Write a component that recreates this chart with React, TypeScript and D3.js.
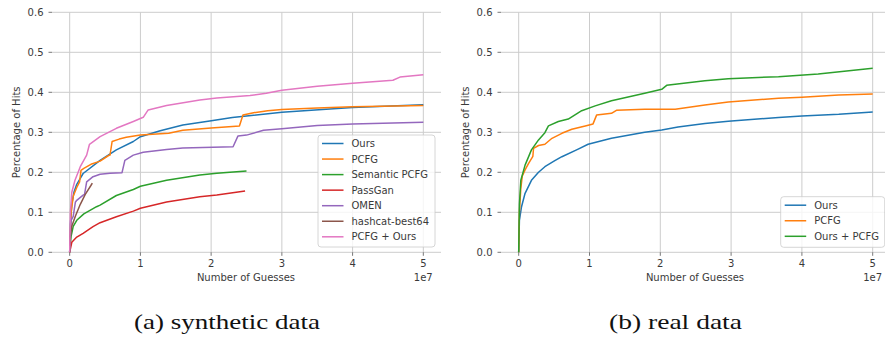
import React from "react";
import * as d3 from "d3";

type P = [number, number];

// x in units of 1e7 guesses, y as fraction of hits
const synOurs: P[] = [[0,0],[0.01,0.07],[0.03,0.12],[0.06,0.15],[0.1,0.17],[0.15,0.185],[0.19,0.197],[0.43,0.23],[0.66,0.256],[0.9,0.277],[1.0,0.289],[1.28,0.304],[1.6,0.318],[1.98,0.328],[2.3,0.337],[2.5,0.341],[3.0,0.35],[3.73,0.359],[4.0,0.362],[5.0,0.369]];
const synPCFG: P[] = [[0,0],[0.02,0.1],[0.05,0.14],[0.1,0.162],[0.14,0.176],[0.16,0.205],[0.2,0.21],[0.3,0.22],[0.43,0.228],[0.55,0.242],[0.57,0.243],[0.6,0.277],[0.7,0.283],[0.8,0.2875],[1.0,0.293],[1.4,0.2975],[1.6,0.305],[2.0,0.311],[2.4,0.316],[2.45,0.343],[2.6,0.349],[2.8,0.354],[3.0,0.357],[3.5,0.361],[4.0,0.364],[5.0,0.367]];
const synSemantic: P[] = [[0,0],[0.02,0.04],[0.05,0.065],[0.1,0.08],[0.2,0.096],[0.38,0.114],[0.43,0.118],[0.66,0.142],[0.9,0.157],[1.0,0.165],[1.37,0.18],[1.84,0.193],[2.08,0.1975],[2.5,0.203]];
const synPassGan: P[] = [[0,0],[0.03,0.025],[0.1,0.038],[0.19,0.0475],[0.33,0.064],[0.43,0.074],[0.66,0.089],[0.9,0.103],[1.0,0.11],[1.37,0.126],[1.84,0.139],[2.08,0.143],[2.48,0.153]];
const synOMEN: P[] = [[0,0],[0.02,0.08],[0.05,0.09],[0.08,0.125],[0.1,0.13],[0.19,0.143],[0.21,0.145],[0.24,0.176],[0.33,0.189],[0.43,0.195],[0.57,0.1975],[0.74,0.199],[0.78,0.23],[0.9,0.243],[1.04,0.25],[1.37,0.257],[1.6,0.261],[2.31,0.264],[2.38,0.291],[2.5,0.293],[2.74,0.305],[3.0,0.309],[3.5,0.317],[4.0,0.321],[5.0,0.325]];
const synHashcat: P[] = [[0,0],[0.01,0.04],[0.03,0.065],[0.08,0.09],[0.15,0.12],[0.22,0.145],[0.3,0.167],[0.32,0.173]];
const synPCFGOurs: P[] = [[0,0],[0.01,0.1],[0.03,0.15],[0.075,0.18],[0.15,0.214],[0.24,0.243],[0.28,0.27],[0.43,0.289],[0.66,0.31],[0.9,0.327],[1.04,0.3375],[1.11,0.356],[1.37,0.367],[1.84,0.381],[2.08,0.386],[2.55,0.392],[2.78,0.3975],[3.0,0.405],[3.5,0.415],[4.0,0.4225],[4.57,0.43],[4.67,0.438],[5.0,0.444]];

const realOurs: P[] = [[0,0],[0.01,0.08],[0.04,0.114],[0.09,0.1475],[0.18,0.18],[0.28,0.2],[0.37,0.214],[0.51,0.229],[0.61,0.239],[0.84,0.258],[0.98,0.27],[1.31,0.285],[1.78,0.3],[2.02,0.306],[2.25,0.313],[2.63,0.322],[2.96,0.3275],[3.67,0.337],[4.0,0.341],[4.52,0.345],[5.0,0.351]];
const realPCFG: P[] = [[0,0],[0.01,0.1],[0.03,0.16],[0.05,0.19],[0.09,0.206],[0.14,0.2225],[0.2,0.24],[0.21,0.26],[0.28,0.267],[0.37,0.27],[0.47,0.285],[0.61,0.2975],[0.75,0.3075],[0.94,0.316],[1.05,0.321],[1.1,0.343],[1.31,0.3475],[1.38,0.355],[1.78,0.3575],[2.21,0.3575],[2.63,0.368],[2.96,0.376],[3.67,0.385],[4.0,0.3875],[4.52,0.393],[5.0,0.396]];
const realBoth: P[] = [[0,0],[0.01,0.12],[0.03,0.18],[0.09,0.218],[0.18,0.256],[0.28,0.281],[0.37,0.299],[0.42,0.316],[0.56,0.327],[0.7,0.333],[0.89,0.354],[1.08,0.366],[1.31,0.379],[1.78,0.3975],[2.02,0.4075],[2.09,0.4175],[2.63,0.429],[2.96,0.434],[3.67,0.439],[4.23,0.446],[5.0,0.46]];

const xTicks = [0, 1, 2, 3, 4, 5];
const yTicks = [0, 0.1, 0.2, 0.3, 0.4, 0.5, 0.6];

const C = ["#1f77b4", "#ff7f0e", "#2ca02c", "#d62728", "#9467bd", "#8c564b", "#e377c2"];

const leftSeries = [
  { name: "Ours", data: synOurs, color: C[0] },
  { name: "PCFG", data: synPCFG, color: C[1] },
  { name: "Semantic PCFG", data: synSemantic, color: C[2] },
  { name: "PassGan", data: synPassGan, color: C[3] },
  { name: "OMEN", data: synOMEN, color: C[4] },
  { name: "hashcat-best64", data: synHashcat, color: C[5] },
  { name: "PCFG + Ours", data: synPCFGOurs, color: C[6] },
];
const rightSeries = [
  { name: "Ours", data: realOurs, color: C[0] },
  { name: "PCFG", data: realPCFG, color: C[1] },
  { name: "Ours + PCFG", data: realBoth, color: C[2] },
];

const FONT = "DejaVu Sans, sans-serif";
const TXT = "#3a3a3a";

function Panel({ x0, x1, series, legend, caption, labelX }: any) {
  const top = 12.3, bottom = 252.3;
  const x = d3.scaleLinear().domain([-0.25, 5.25]).range([x0, x1]);
  const y = d3.scaleLinear().domain([0, 0.6]).range([bottom, top]);
  const line = d3.line<P>().x((d) => x(d[0])).y((d) => y(d[1]));
  const clipId = "clip" + Math.round(x0);
  return (
    <g>
      <defs>
        <clipPath id={clipId}>
          <rect x={x0} y={top - 2} width={x1 - x0} height={bottom - top + 4} />
        </clipPath>
      </defs>
      {yTicks.map((t) => (
        <g key={"y" + t}>
          <line x1={x0} x2={x1} y1={y(t)} y2={y(t)} stroke="#cccccc" strokeWidth={1} />
          <line x1={x0 - 3.5} x2={x0} y1={y(t)} y2={y(t)} stroke="#555" strokeWidth={0.8} />
          <text x={x0 - 8.5} y={y(t)} dy="0.35em" textAnchor="end" fontFamily={FONT} fontSize={10} fill={TXT}>
            {t.toFixed(1)}
          </text>
        </g>
      ))}
      {xTicks.map((t) => (
        <g key={"x" + t}>
          <line x1={x(t)} x2={x(t)} y1={top} y2={bottom} stroke="#cccccc" strokeWidth={1} />
          <line x1={x(t)} x2={x(t)} y1={bottom} y2={bottom + 3.5} stroke="#555" strokeWidth={0.8} />
          <text x={x(t)} y={bottom + 14.5} textAnchor="middle" fontFamily={FONT} fontSize={10} fill={TXT}>
            {t}
          </text>
        </g>
      ))}
      <g clipPath={`url(#${clipId})`}>
        {series.map((s: any) => (
          <path key={s.name} d={line(s.data) || ""} fill="none" stroke={s.color} strokeWidth={1.5} strokeLinejoin="round" />
        ))}
      </g>
      <text x={x(5)} y={bottom + 28.5} textAnchor="middle" fontFamily={FONT} fontSize={10} fill={TXT}>1e7</text>
      <text x={labelX} y={bottom + 29} textAnchor="middle" fontFamily={FONT} fontSize={10} fill={TXT}>Number of Guesses</text>
      <text transform={`translate(${x0 - 32},${(top + bottom) / 2}) rotate(-90)`} textAnchor="middle" fontFamily={FONT} fontSize={10} fill={TXT}>
        Percentage of Hits
      </text>
      <g>
        <rect x={legend.x} y={legend.y} width={legend.w} height={legend.h} rx={3} fill="white" fillOpacity={0.8} stroke="#cccccc" strokeWidth={0.8} />
        {series.map((s: any, i: number) => {
          const ly = legend.y + 8.5 + i * 15.55;
          return (
            <g key={"l" + s.name}>
              <line x1={legend.x + 4} x2={legend.x + 25.5} y1={ly} y2={ly} stroke={s.color} strokeWidth={1.5} />
              <text x={legend.x + 33.5} y={ly} dy="0.35em" fontFamily={FONT} fontSize={10} fill={TXT}>{s.name}</text>
            </g>
          );
        })}
      </g>
      <text x={caption.x} y={328.5} textAnchor="middle" fontFamily="Liberation Serif, DejaVu Serif, serif" fontSize={21}
        textLength={caption.len} lengthAdjust="spacingAndGlyphs" fill="#111">
        {caption.text}
      </text>
    </g>
  );
}

export default function App() {
  return (
    <svg width={885} height={337} style={{ position: "absolute", left: 0, top: 0, background: "white" }}>
      <rect width={885} height={337} fill="white" />
      <Panel x0={52} x1={441} series={leftSeries} labelX={246}
        legend={{ x: 318, y: 135, w: 117, h: 112 }}
        caption={{ x: 227, text: "(a) synthetic data", len: 186 }} />
      <Panel x0={501} x1={890.4} series={rightSeries} labelX={695}
        legend={{ x: 780.7, y: 196.7, w: 104, h: 50.6 }}
        caption={{ x: 675.5, text: "(b) real data", len: 133 }} />
    </svg>
  );
}
